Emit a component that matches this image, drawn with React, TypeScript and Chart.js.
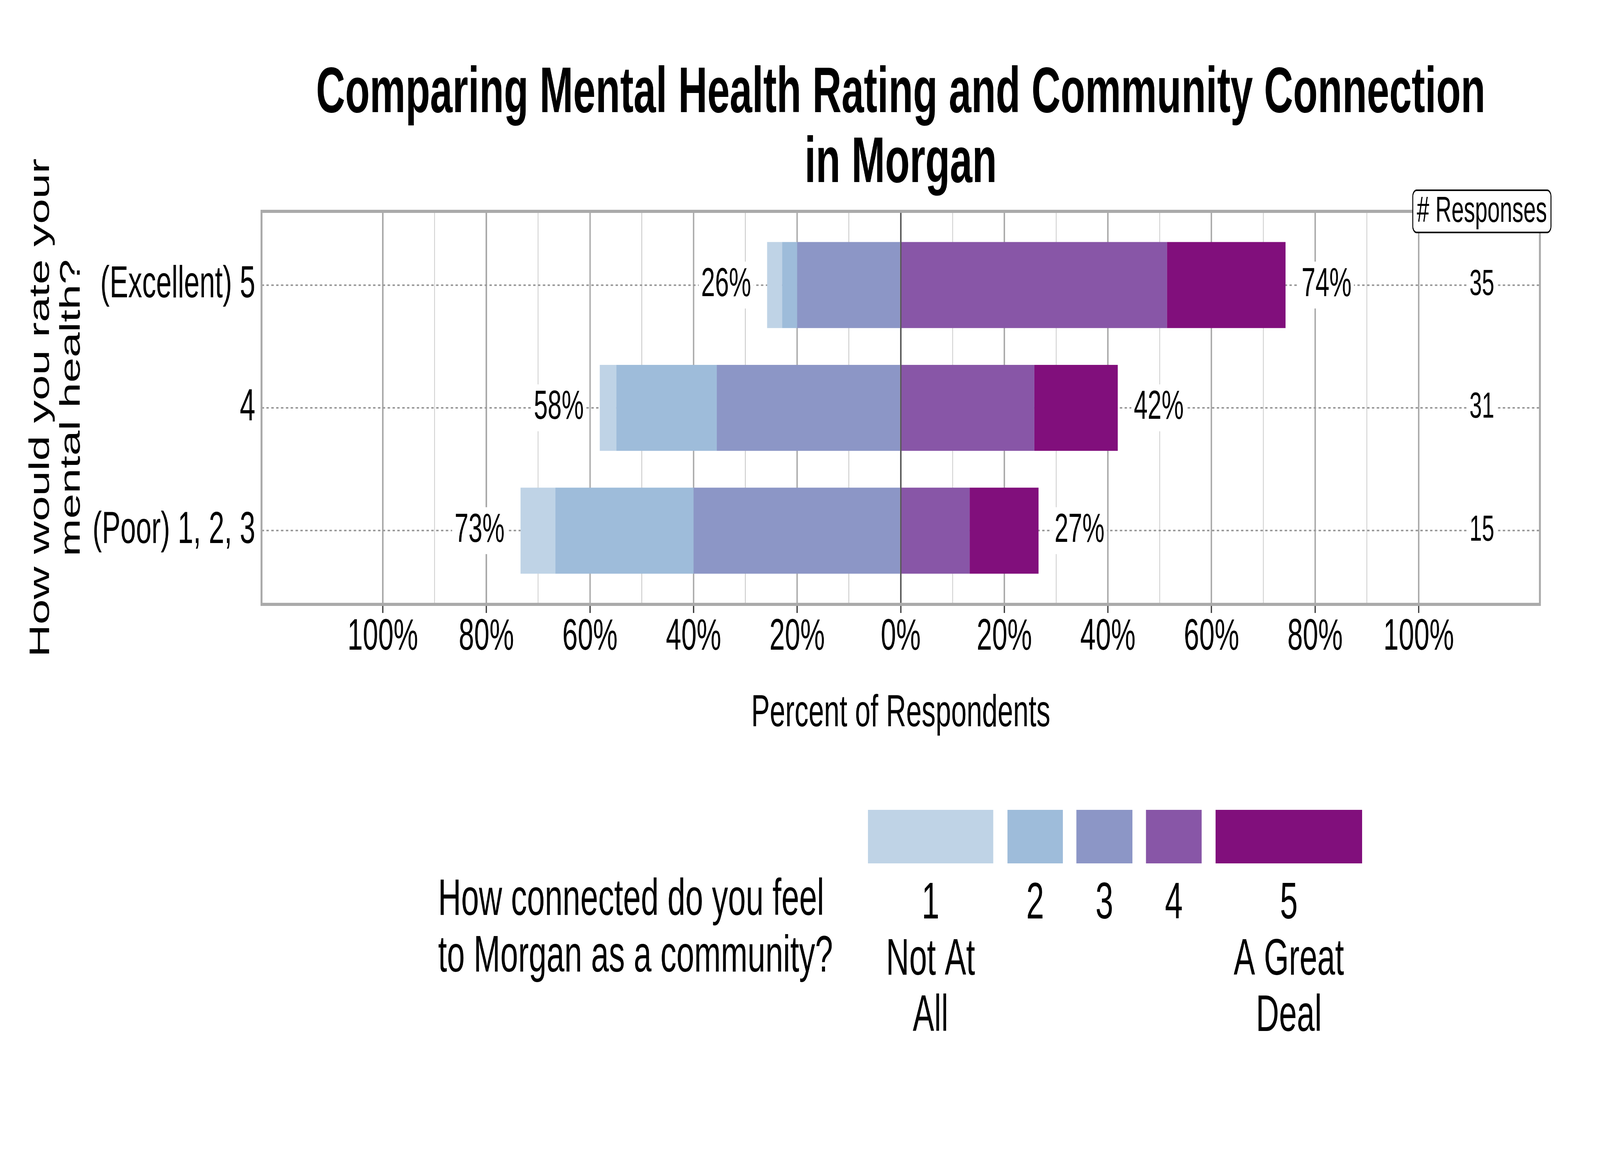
import React, { useEffect, useRef } from "react";
import { Chart, ChartConfiguration, Plugin, registerables } from "chart.js";

Chart.register(...registerables);

const FONT = '"Liberation Sans", Arial, Helvetica, sans-serif';
Chart.defaults.font.family = FONT;
Chart.defaults.color = "#000000";

// rows of the chart (top to bottom)
const ratingLabels = ["(Excellent) 5", "4", "(Poor) 1, 2, 3"];
const responseCounts = [35, 31, 15];

// legend
const legendTitle = ["How connected do you feel", "to Morgan as a community?"];
const connectionLevels = ["1", "2", "3", "4", "5"];
const levelCaptions = [["Not At", "All"], [], [], [], ["A Great", "Deal"]];
const levelColors = ["#bfd3e6", "#9ebcda", "#8c96c6", "#8856a7", "#810f7c"];

// percent of respondents per connection level, one value per rating row
const notAtAll = [2.9, 3.2, 6.7];
const level2 = [2.9, 19.4, 26.7];
const level3 = [20.0, 35.5, 40.0];
const level4 = [51.4, 25.8, 13.3];
const greatDeal = [22.9, 16.1, 13.3];

const levelValues = [notAtAll, level2, level3, level4, greatDeal];
const negativeSide = [true, true, true, false, false];
// the level nearest zero has to be stacked first
const stackOrder = [2, 1, 0, 3, 4];

const xTickValues = [
  -100, -90, -80, -70, -60, -50, -40, -30, -20, -10, 0, 10, 20, 30, 40, 50, 60,
  70, 80, 90, 100,
];

const tickVal = (ctx: any): number => (ctx.tick ? ctx.tick.value : 1);

const drawBoxedText = (
  ctx: CanvasRenderingContext2D,
  text: string,
  x: number,
  y: number,
  align: CanvasTextAlign,
) => {
  const w = ctx.measureText(text).width;
  const left = align === "right" ? x - w : align === "center" ? x - w / 2 : x;
  ctx.fillStyle = "#ffffff";
  ctx.fillRect(left - 10, y - 60, w + 20, 120);
  ctx.fillStyle = "#000000";
  ctx.textAlign = align;
  ctx.fillText(text, x, y);
};

const extrasPlugin: Plugin<"bar"> = {
  id: "extras",
  afterDraw(chart) {
    const { ctx, chartArea } = chart;
    const xs = chart.scales.x;
    const ys = chart.scales.y;
    ctx.save();

    // panel frame
    ctx.strokeStyle = "#aaaaaa";
    ctx.lineWidth = 8;
    ctx.strokeRect(chartArea.left, chartArea.top, chartArea.width, chartArea.height);

    // totals on each side + response counts
    ctx.textBaseline = "middle";
    ratingLabels.forEach((_, i) => {
      const neg = notAtAll[i] + level2[i] + level3[i];
      const pos = level4[i] + greatDeal[i];
      const y = ys.getPixelForValue(i);
      ctx.font = `103px ${FONT}`;
      drawBoxedText(ctx, `${Math.round(neg)}%`, xs.getPixelForValue(-neg) - 66, y, "right");
      drawBoxedText(ctx, `${Math.round(pos)}%`, xs.getPixelForValue(pos) + 66, y, "left");
      ctx.font = `92px ${FONT}`;
      drawBoxedText(ctx, String(responseCounts[i]), xs.getPixelForValue(112.2), y, "center");
    });

    // "# Responses" header
    const hx = xs.getPixelForValue(112.2);
    ctx.font = `92px ${FONT}`;
    ctx.fillStyle = "#ffffff";
    ctx.strokeStyle = "#000000";
    ctx.lineWidth = 4;
    ctx.beginPath();
    ctx.roundRect(hx - 285, chartArea.top - 54, 570, 108, 16);
    ctx.fill();
    ctx.stroke();
    ctx.fillStyle = "#000000";
    ctx.textAlign = "center";
    ctx.fillText("# Responses", hx, chartArea.top + 2);

    // title
    const cx = (chartArea.left + chartArea.right) / 2;
    ctx.textBaseline = "alphabetic";
    ctx.font = `bold 166px ${FONT}`;
    ctx.fillText("Comparing Mental Health Rating and Community Connection", cx, 287);
    ctx.fillText("in Morgan", cx, 466);

    // legend
    const keyX = [3580, 4156, 4440, 4727, 5014];
    const keyW = [517, 228, 231, 230, 605];
    connectionLevels.forEach((lvl, k) => {
      ctx.fillStyle = levelColors[k];
      ctx.fillRect(keyX[k], 2073, keyW[k], 137);
      ctx.fillStyle = "#000000";
      ctx.font = `132px ${FONT}`;
      ctx.textAlign = "center";
      const mid = keyX[k] + keyW[k] / 2;
      [lvl, ...levelCaptions[k]].forEach((line, j) => {
        ctx.fillText(line, mid, 2351 + j * 144);
      });
    });
    ctx.textAlign = "left";
    legendTitle.forEach((line, j) => ctx.fillText(line, 1807, 2342 + j * 145));

    ctx.restore();
  },
};

const App: React.FC = () => {
  const chartRef = useRef<HTMLCanvasElement | null>(null);

  useEffect(() => {
    if (!chartRef.current) return;
    const ctx = chartRef.current.getContext("2d");
    if (!ctx) return;

    const config: ChartConfiguration<"bar"> = {
      type: "bar",
      data: {
        datasets: stackOrder.map((k) => ({
          label: connectionLevels[k],
          data: levelValues[k].map((v, i) => ({ x: negativeSide[k] ? -v : v, y: i })),
          backgroundColor: levelColors[k],
          borderWidth: 0,
          barPercentage: 0.7,
          categoryPercentage: 1,
        })) as any,
      },
      options: {
        indexAxis: "y",
        responsive: false,
        animation: false,
        devicePixelRatio: 1,
        layout: { padding: { top: 541, right: 248, bottom: 1047, left: 0 } },
        plugins: {
          legend: { display: false },
          tooltip: { enabled: false },
          title: { display: false },
        },
        scales: {
          x: {
            type: "linear",
            stacked: true,
            min: -123.4,
            max: 123.4,
            afterBuildTicks: (scale) => {
              scale.ticks = xTickValues.map((value) => ({ value }));
            },
            afterFit: (scale) => {
              scale.height = 406;
            },
            border: { display: false },
            grid: {
              color: (c) => {
                const v = tickVal(c);
                return v === 0 ? "#555555" : v % 20 === 0 ? "#aaaaaa" : "#c6c6c6";
              },
              lineWidth: (c) => (tickVal(c) % 20 === 0 ? 6 : 3),
              tickLength: 22,
              tickWidth: 5,
              tickColor: (c) => (tickVal(c) % 20 === 0 ? "#333333" : "rgba(0,0,0,0)"),
            },
            ticks: {
              autoSkip: false,
              maxRotation: 0,
              minRotation: 0,
              padding: 0,
              color: "#000000",
              font: { size: 114, lineHeight: 1.1 },
              callback: (value) =>
                Number(value) % 20 === 0 ? `${Math.abs(Number(value))}%` : "",
            },
            title: {
              display: true,
              text: "Percent of Respondents",
              color: "#000000",
              font: { size: 115 },
              padding: { top: 0, bottom: 57 },
            },
          },
          y: {
            type: "linear",
            stacked: true,
            reverse: true,
            offset: false,
            min: -0.6,
            max: 2.6,
            afterBuildTicks: (scale) => {
              scale.ticks = ratingLabels.map((_, i) => ({ value: i }));
            },
            afterFit: (scale) => {
              scale.width = 1079;
            },
            border: { display: false, dash: [10, 10] },
            grid: { color: "#9a9a9a", lineWidth: 4, drawTicks: false, offset: false },
            ticks: {
              padding: 26,
              color: "#000000",
              font: { size: 115 },
              callback: (value) => ratingLabels[Number(value)] ?? "",
            },
            title: {
              display: true,
              text: ["How would you rate your", "mental health?"],
              color: "#000000",
              font: { size: 116, lineHeight: 1.1 },
              padding: { top: 106, bottom: 0 },
            },
          },
        },
      },
      plugins: [extrasPlugin],
    };

    const chart = new Chart(ctx, config);
    return () => {
      chart.destroy();
    };
  }, []);

  // the drawing is laid out on a 6600x3000 bitmap and shown over the whole window
  return (
    <div style={{ position: "fixed", left: 0, top: 0, right: 0, bottom: 0, background: "#ffffff" }}>
      <canvas ref={chartRef} width={6600} height={3000} style={{ display: "block", width: "100%", height: "100%" }} />
    </div>
  );
};

export default App;
